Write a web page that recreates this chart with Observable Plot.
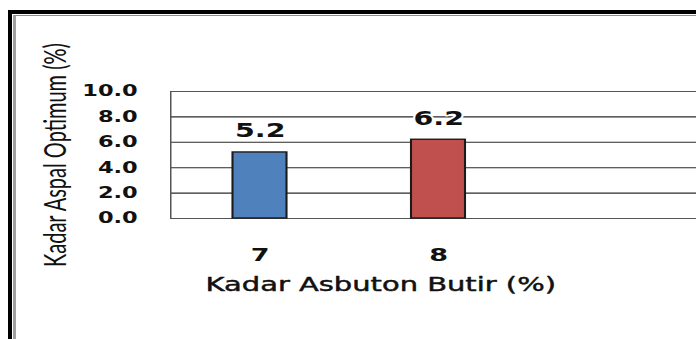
<!DOCTYPE html>
<html>
<head>
<meta charset="utf-8">
<script src="https://cdn.jsdelivr.net/npm/d3@7"></script>
<script src="https://cdn.jsdelivr.net/npm/@observablehq/plot@0.6"></script>
<style>
  html, body { margin: 0; padding: 0; background: #fff; overflow: hidden; width: 696px; height: 339px; }
  #border { position: absolute; left: 8px; top: 10px; width: 720px; height: 360px;
            border-top: 4px solid #000; border-left: 4px solid #000; }
  #border-inner { position: absolute; left: 1px; top: 1px; right: 0; bottom: 0;
                  border-top: 1px solid #8c8c8c; border-left: 3px solid #a0a0a0; }
  #chart { position: absolute; left: 0; top: 0; }
</style>
</head>
<body>
<div id="border"><div id="border-inner"></div></div>
<div id="chart"></div>
<script>
// Asbuton content (%) and the optimum bitumen content found for each
const categories = [7, 8];
const optimumBitumen = [5.2, 6.2];
const barColors = ["#4F81BD", "#C0504D"];
const yTicks = [0, 2, 4, 6, 8, 10];
const xTitle = "Kadar Asbuton Butir (%)";
const yTitle = "Kadar Aspal Optimum (%)";

const rows = categories.map((kadar, i) => ({kadar, aspal: optimumBitumen[i]}));

// The chart is laid out in a narrower box and widened horizontally on screen
const sx = 1.5;
const W = 696 / sx;
const H = 339;
const left = 170 / sx;

const chart = Plot.plot({
  width: W,
  height: H,
  marginLeft: left,
  marginRight: -20,
  marginTop: 91,
  marginBottom: 121,
  style: {fontFamily: "DejaVu Sans", color: "#111"},
  x: {type: "band", domain: categories, range: [left, 528 / sx], paddingInner: 0.7, paddingOuter: 0.35, axis: null},
  y: {domain: [0, 10], axis: null},
  color: {domain: categories, range: barColors},
  marks: [
    Plot.ruleY(yTicks, {stroke: "#2a2a2a", strokeWidth: 1.1}),
    Plot.frame({stroke: "#555", strokeWidth: 1}),
    Plot.barY(rows, {x: "kadar", y: "aspal", fill: "kadar", stroke: "#1b1b1b", strokeWidth: 1.4}),
    Plot.text(rows, {
      x: "kadar", y: "aspal", text: d => d.aspal.toFixed(1),
      lineAnchor: "bottom", dy: -15, fontSize: 19, fontWeight: "bold",
      fill: "#111", stroke: "white", strokeWidth: 3, paintOrder: "stroke"
    }),
    Plot.axisY(yTicks, {
      tickSize: 0, tickPadding: 33 / sx, tickFormat: d3.format(".1f"),
      fontSize: 15, fontWeight: "bold", label: null
    }),
    Plot.axisX({tickSize: 0, tickPadding: 30, fontSize: 18, fontWeight: "bold", label: null}),
    Plot.text([yTitle], {
      frameAnchor: "left", rotate: -90, dx: 37 - left,
      textAnchor: "middle", lineAnchor: "middle",
      fontFamily: "Lato", fontSize: 20, fill: "#111"
    }),
    Plot.text([xTitle], {
      frameAnchor: "bottom-left", dx: 380 / sx - left, dy: 66,
      textAnchor: "middle", lineAnchor: "middle",
      fontSize: 19.3, fill: "#111", stroke: "#111", strokeWidth: 0.45
    })
  ]
});

chart.setAttribute("preserveAspectRatio", "none");
chart.style.width = "696px";
chart.style.height = H + "px";
chart.style.maxWidth = "none";
chart.style.background = "transparent";
document.getElementById("chart").appendChild(chart);
</script>
</body>
</html>
